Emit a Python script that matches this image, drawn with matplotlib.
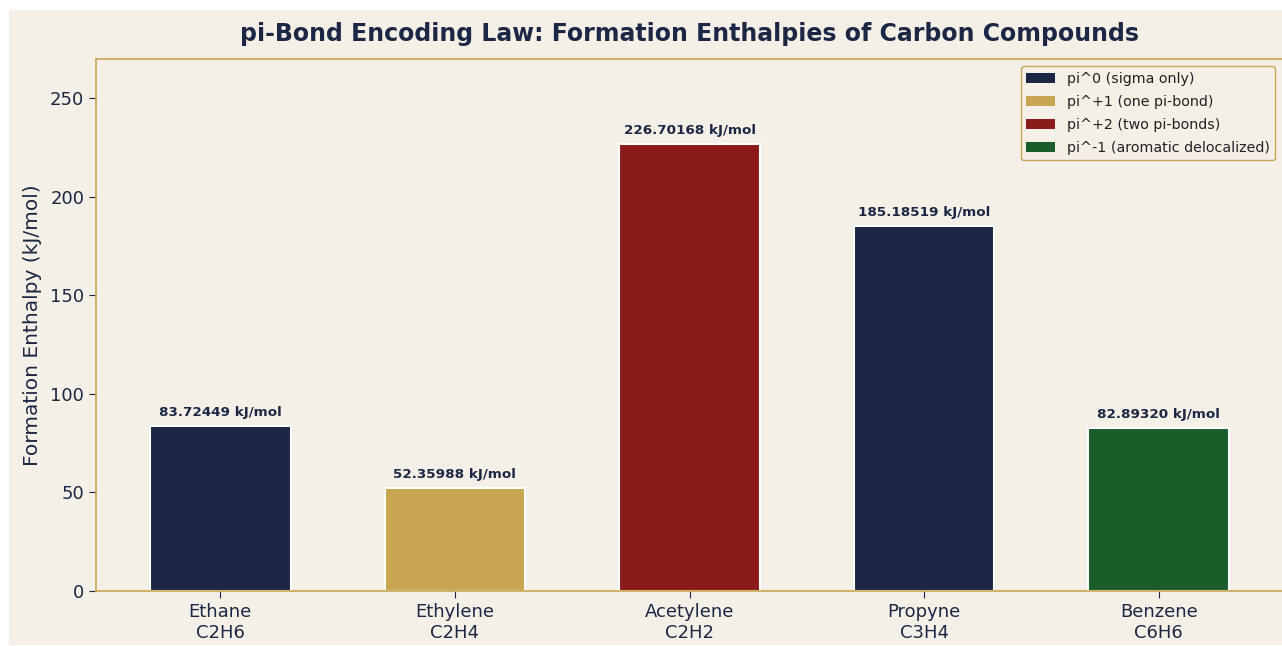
import matplotlib
matplotlib.use("Agg")
import matplotlib.pyplot as plt
import numpy as np
from matplotlib.patches import Rectangle, Patch

# data
names = ["Ethane", "Ethylene", "Acetylene", "Propyne", "Benzene"]
formulas = ["C2H6", "C2H4", "C2H2", "C3H4", "C6H6"]
enthalpy = [83.72449, 52.35988, 226.70168, 185.18519, 82.89320]
pi_class = [0, 1, 2, 0, 3]
class_labels = ["pi^0 (sigma only)", "pi^+1 (one pi-bond)", "pi^+2 (two pi-bonds)",
                "pi^-1 (aromatic delocalized)"]

NAVY = "#1b2744"
GOLD = "#c8a550"
RED = "#8b1a1a"
GREEN = "#1a5c2a"
BG = "#f4efe7"
class_colors = [NAVY, GOLD, RED, GREEN]

W, H = 1282, 646
fig = plt.figure(figsize=(W / 100, H / 100), dpi=100, facecolor="white")
# beige page, the screenshot has a thin white strip on left/top/bottom
fig.patches.append(Rectangle((9 / W, 1 / H), 1, 635 / H, transform=fig.transFigure,
                             facecolor=BG, edgecolor="none", zorder=-10))

ax = fig.add_axes([96 / W, (H - 591) / H, (1283 - 96) / W, (591 - 59) / H])
ax.set_facecolor(BG)

x = np.arange(len(names))
cols = [class_colors[c] for c in pi_class]
ax.bar(x, enthalpy, width=0.6, color=cols, edgecolor="white", linewidth=1.5)

for xi, v in zip(x, enthalpy):
    ax.annotate("%.5f kJ/mol" % v, (xi, v), xytext=(0, 5), textcoords="offset points",
                ha="center", va="bottom", fontsize=9.7, fontweight="bold", color=NAVY)

ax.set_xlim(-0.53, 4.53)
ax.set_ylim(0, 270)
ax.set_xticks(x)
ax.set_xticklabels([n + "\n" + f for n, f in zip(names, formulas)])
ax.tick_params(colors=NAVY, labelsize=13, length=5)
ax.set_ylabel("Formation Enthalpy (kJ/mol)", fontsize=14.5, color=NAVY, labelpad=6)

for s in ax.spines.values():
    s.set_color(GOLD)
    s.set_linewidth(1.2)

fig.text(690 / W, 1 - 34 / H, "pi-Bond Encoding Law: Formation Enthalpies of Carbon Compounds",
         ha="center", va="center", fontsize=17, fontweight="bold", color=NAVY)

handles = [Patch(facecolor=c, label=l) for c, l in zip(class_colors, class_labels)]
leg = ax.legend(handles=handles, loc="upper right", fontsize=10.3, facecolor=BG,
                edgecolor=GOLD, framealpha=1, labelspacing=0.62,
                bbox_to_anchor=(0.9995, 0.9995))
for t in leg.get_texts():
    t.set_color("#222222")

fig.savefig("out.png", dpi=100, facecolor="white")
